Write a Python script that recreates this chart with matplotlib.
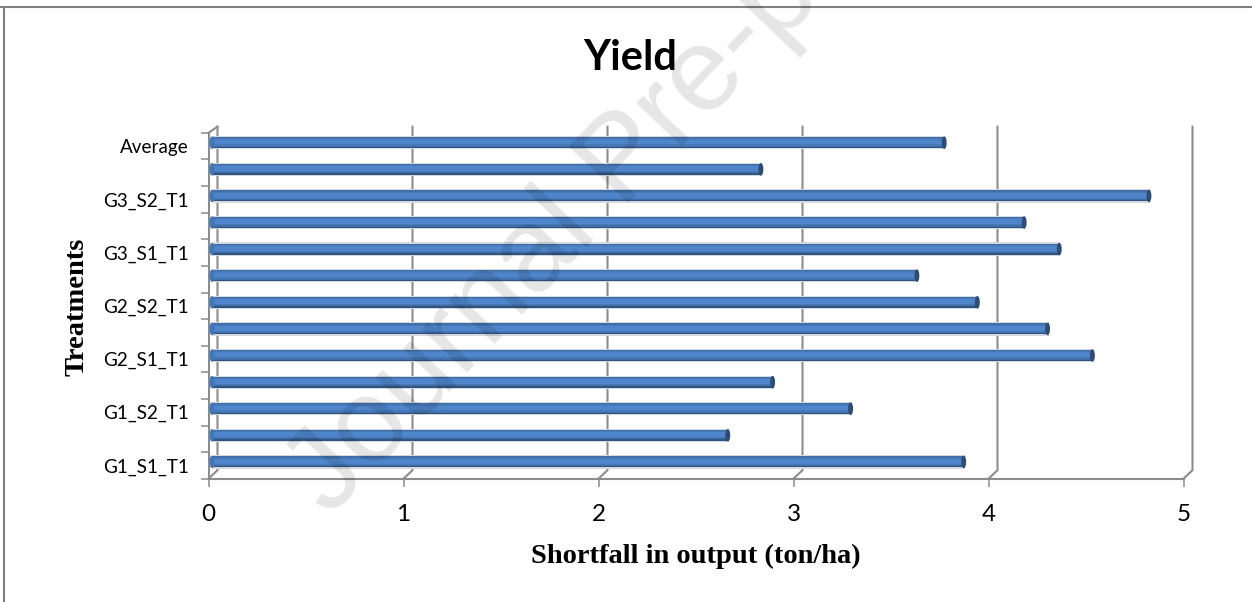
import numpy as np
import matplotlib
matplotlib.use("Agg")
import matplotlib.pyplot as plt
from matplotlib.lines import Line2D
from matplotlib.patches import Ellipse

# bottom to top on the chart
tick_labels = ["G1_S1_T1", "", "G1_S2_T1", "", "G2_S1_T1", "", "G2_S2_T1", "",
               "G3_S1_T1", "", "G3_S2_T1", "", "Average"]
shortfall = [3.86, 2.65, 3.28, 2.88, 4.52, 4.29, 3.93, 3.62, 4.35, 4.17, 4.81, 2.82, 3.76]
x_ticks = [0, 1, 2, 3, 4, 5]

W, H = 1252, 602
GRID = "#8c8c8c"
LABEL_FONT = ["Lato", "DejaVu Sans"]
AXIS_FONT = ["Liberation Serif", "DejaVu Serif"]

fig = plt.figure(figsize=(W / 100, H / 100), dpi=100)
fig.patch.set_facecolor("white")

# axes box in pixels: x=0 sits at 208.5, floor at 478.7, back wall top at 126.7
left, right, top, bottom = 208.5, 1194.0, 126.7, 478.7
ax = fig.add_axes([left / W, 1 - bottom / H, (right - left) / W, (bottom - top) / H])
px_x = 195.0
px_y = 26.6
ax.set_xlim(0, (right - left) / px_x)
ax.set_ylim(-0.5, -0.5 + (bottom - top) / px_y)
ax.patch.set_visible(False)

for s in ["top", "right"]:
    ax.spines[s].set_visible(False)
for s in ["left", "bottom"]:
    ax.spines[s].set_color(GRID)
    ax.spines[s].set_linewidth(1.5)
ax.spines["bottom"].set_bounds(0, 5)
ax.spines["left"].set_bounds(-0.5, 12.5)

ax.set_xticks(x_ticks)
ax.tick_params(axis="x", length=6, width=1.1, color=GRID, pad=12, labelsize=17.5, labelcolor="black")
for t in ax.get_xticklabels():
    t.set_family(LABEL_FONT)

y = np.arange(len(shortfall))
ax.set_yticks(y)
ax.set_yticklabels(tick_labels, family=LABEL_FONT, fontsize=13.6, color="black")
ax.tick_params(axis="y", which="major", length=0, pad=14)
ax.set_yticks(np.arange(-0.5, 13), minor=True)
ax.tick_params(axis="y", which="minor", length=6, width=1.1, color=GRID)

# back wall lines and the short slanted joints to the floor
dx = 9 / px_x
dy = 8.5 / px_y
ytop = ax.get_ylim()[1]
for v in x_ticks:
    ax.plot([v, v + dx, v + dx], [-0.5, -0.5 + dy, ytop], color=GRID, lw=1.5, zorder=1,
            clip_on=False, solid_joinstyle="miter")
ax.plot([0, dx], [12.5, ytop], color=GRID, lw=1.5, zorder=1, clip_on=False)

# cylinders: stacked bands from the dark rim to the lit middle
bar_h = 11 / px_y
bar_left = 3.5 / px_x
bar_y = y + 3.5 / px_y
bands = [(1.0, 0.0, "#2f5482"),
         (0.88, 0.06, "#3f6ea8"),
         (0.66, 0.06, "#4879b8"),
         (0.44, 0.06, "#4f86cb")]
ax.barh(bar_y, shortfall, 1.2 * bar_h, left=bar_left, color="#d5d9de", zorder=2)
for frac, shift, col in bands:
    ax.barh(bar_y + shift * bar_h, shortfall, frac * bar_h, left=bar_left, color=col, zorder=3)
for yy, v in zip(bar_y, shortfall):
    ax.add_patch(Ellipse((bar_left + v - 1 / px_x, yy), 3.5 / px_x, bar_h, color="#2b4d78", zorder=4))
    ax.add_patch(Ellipse((bar_left, yy), 3.5 / px_x, bar_h, color="#4576b4", zorder=4))

fig.text(630 / W, 1 - 58 / H, "Yield", family=LABEL_FONT, fontsize=30, fontweight="bold",
         ha="center", va="center", color="black")
fig.text(696 / W, 1 - 556 / H, "Shortfall in output (ton/ha)", family=AXIS_FONT, fontsize=20.5,
         fontweight="bold", ha="center", va="center", color="black")
fig.text(77 / W, 1 - 307 / H, "Treatments", family=AXIS_FONT, fontsize=20.5, fontweight="bold",
         rotation=90, ha="center", va="center", color="black")

# page frame lines
fig.add_artist(Line2D([0, 1], [1 - 6.5 / H, 1 - 6.5 / H], color="#808080", lw=1.5))
fig.add_artist(Line2D([4 / W, 4 / W], [0, 1 - 6.5 / H], color="#808080", lw=1.5))

# translucent stamp across the page
fig.text(330 / W, 1 - 518 / H, "Journal Pre-proof", family=["Liberation Sans", "DejaVu Sans"],
         fontsize=86, rotation=46.5, rotation_mode="anchor", ha="left", va="baseline",
         color="black", alpha=0.1, zorder=10)

fig.savefig("out.png", dpi=100)
